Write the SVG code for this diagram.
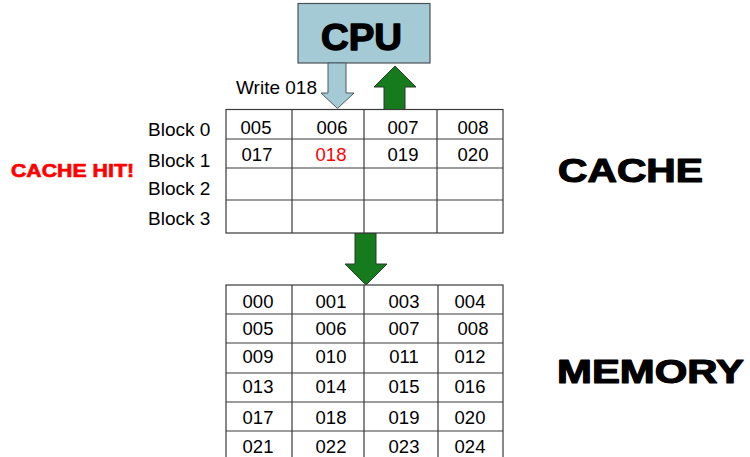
<svg xmlns="http://www.w3.org/2000/svg" width="750" height="457" viewBox="0 0 750 457">
  <style>
    .grid { fill: #ffffff; stroke: #3a3a3a; stroke-width: 1.2; }
    .line { stroke: #3a3a3a; stroke-width: 1.2; fill: none; }
    .cell { font-family: "Liberation Sans", Arial, sans-serif; font-size: 18.5px; fill: #000; text-anchor: middle; }
    .label { font-family: "Liberation Sans", Arial, sans-serif; font-size: 19px; fill: #000; }
    .heavy { font-family: "Liberation Sans", Arial, sans-serif; font-weight: 900; fill: #000; stroke: #000; stroke-linejoin: round; }
    .green { fill: #167b1d; stroke: #2a3a2a; stroke-width: 1; }
    .blue { fill: #a3cad5; stroke: #4a5a60; stroke-width: 1; }
  </style>

  <rect width="750" height="457" fill="#ffffff"/>

  <!-- processor -->
  <g id="cpu">
    <rect x="298" y="3.5" width="132" height="59.5" fill="#a3cad5" stroke="#4a5358" stroke-width="1.2"/>
    <text class="heavy" x="321" y="50" font-size="37" stroke-width="1.4" textLength="81" lengthAdjust="spacingAndGlyphs">CPU</text>
  </g>

  <!-- transfers between CPU, cache and memory -->
  <g id="connectors">
    <!-- write request going down into the cache -->
    <polygon class="blue" points="328,63 346,63 346,93 354,93 337.5,108.5 321,93 328,93"/>
    <!-- data returned up to the CPU -->
    <polygon class="green" points="384,110 405,110 405,87 416,87 395,66 374,87 384,87"/>
    <!-- write-through to memory -->
    <polygon class="green" points="355,233 376,233 376,264 387,264 366,285 345,264 355,264"/>
  </g>

  <g id="write-label">
    <text class="label" x="236" y="94">Write 018</text>
  </g>

  <g id="cache-hit">
    <text class="heavy" x="11" y="177" font-size="19" stroke-width="0.7" style="fill:#ff0000;stroke:#ff0000" textLength="123" lengthAdjust="spacingAndGlyphs">CACHE HIT!</text>
  </g>

  <!-- cache with four blocks -->
  <g id="cache">
    <rect class="grid" x="226" y="109.5" width="277" height="123.5"/>
    <path class="line" d="M226,139 H503 M226,168 H503 M226,200 H503 M292,109.5 V233 M364,109.5 V233 M437,109.5 V233"/>
    <text class="label" x="148" y="136">Block 0</text>
    <text class="label" x="148" y="167">Block 1</text>
    <text class="label" x="148" y="195">Block 2</text>
    <text class="label" x="148" y="225">Block 3</text>
    <text class="cell" x="256" y="134">005</text>
    <text class="cell" x="332" y="134">006</text>
    <text class="cell" x="403" y="134">007</text>
    <text class="cell" x="473" y="134">008</text>
    <text class="cell" x="257" y="161">017</text>
    <text class="cell" x="331" y="161" style="fill:#ff0000">018</text>
    <text class="cell" x="403" y="161">019</text>
    <text class="cell" x="473" y="161">020</text>
  </g>

  <g id="cache-title">
    <text class="heavy" x="558" y="182" font-size="33" stroke-width="1.2" textLength="145" lengthAdjust="spacingAndGlyphs">CACHE</text>
  </g>

  <!-- main memory -->
  <g id="memory">
    <rect class="grid" x="226" y="285" width="277" height="180"/>
    <path class="line" d="M226,314 H503 M226,343 H503 M226,373 H503 M226,402 H503 M226,431 H503 M292,285 V457 M364,285 V457 M438,285 V457"/>
    <text class="cell" x="258" y="308">000</text>
    <text class="cell" x="331" y="308">001</text>
    <text class="cell" x="404" y="308">003</text>
    <text class="cell" x="470" y="308">004</text>
    <text class="cell" x="258" y="335">005</text>
    <text class="cell" x="331" y="335">006</text>
    <text class="cell" x="404" y="335">007</text>
    <text class="cell" x="473" y="335">008</text>
    <text class="cell" x="258" y="363">009</text>
    <text class="cell" x="331" y="363">010</text>
    <text class="cell" x="404" y="363">011</text>
    <text class="cell" x="470" y="363">012</text>
    <text class="cell" x="258" y="393">013</text>
    <text class="cell" x="331" y="393">014</text>
    <text class="cell" x="404" y="393">015</text>
    <text class="cell" x="470" y="393">016</text>
    <text class="cell" x="258" y="424">017</text>
    <text class="cell" x="331" y="424">018</text>
    <text class="cell" x="404" y="424">019</text>
    <text class="cell" x="470" y="424">020</text>
    <text class="cell" x="258" y="453">021</text>
    <text class="cell" x="331" y="453">022</text>
    <text class="cell" x="404" y="453">023</text>
    <text class="cell" x="470" y="453">024</text>
  </g>

  <g id="memory-title">
    <text class="heavy" x="557" y="383" font-size="33" stroke-width="1.2" textLength="187" lengthAdjust="spacingAndGlyphs">MEMORY</text>
  </g>
</svg>
